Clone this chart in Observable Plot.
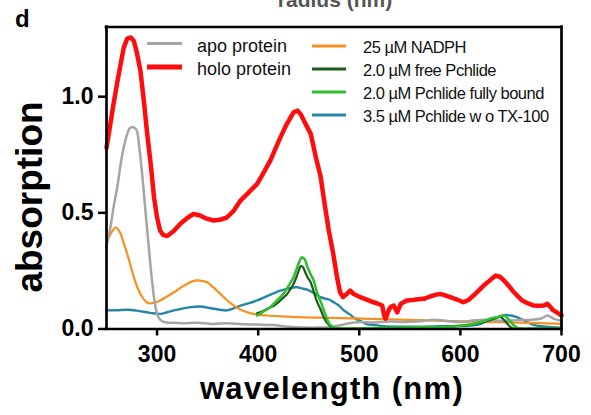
<!DOCTYPE html>
<html>
<head>
<meta charset="utf-8">
<script src="https://cdn.jsdelivr.net/npm/d3@7"></script>
<script src="https://cdn.jsdelivr.net/npm/@observablehq/plot@0.6"></script>
<style>
  body { margin: 0; background: #fff; }
  #chart { width: 591px; height: 415px; }
  #chart svg { font-family: "Liberation Sans", Arial, sans-serif; overflow: visible; }
  #chart g[aria-label="x-axis tick"] path,
  #chart g[aria-label="y-axis tick"] path { stroke-width: 2.5px; }
  #chart g[aria-label="x-axis tick label"],
  #chart g[aria-label="y-axis tick label"] { font-weight: bold; font-size: 23px; }
</style>
</head>
<body>
<div id="chart"></div>
<script>
// Absorption spectra: wavelength (nm) vs absorption
const xDomain = [250, 700];
const yDomain = [0, 1.3];
const xTicks = [300, 400, 500, 600, 700];
const yTicks = [0, 0.5, 1.0];

const apoNm  = [250, 254, 257, 261, 264, 267, 270.5, 273, 275.5, 278, 280, 282.5, 285, 287.5, 290, 292.5, 295, 297.5, 300, 303, 306.6, 315, 325, 340, 355, 370, 385, 400, 415, 430, 445, 460, 470, 480, 490, 500, 515, 530, 545, 560, 574, 585, 600, 615, 625, 640, 655, 670, 680, 686, 692, 700];
const apoAbs = [0.36, 0.44, 0.524, 0.62, 0.71, 0.78, 0.84, 0.865, 0.87, 0.865, 0.854, 0.78, 0.68, 0.56, 0.438, 0.32, 0.209, 0.12, 0.065, 0.04, 0.03, 0.027, 0.025, 0.027, 0.022, 0.025, 0.02, 0.019, 0.017, 0.01, 0.006, 0.006, 0.008, 0.015, 0.025, 0.03, 0.028, 0.032, 0.03, 0.033, 0.04, 0.035, 0.03, 0.038, 0.04, 0.035, 0.038, 0.04, 0.045, 0.058, 0.045, 0.035];

const holoNm  = [250, 253, 257, 261, 264, 267, 270.5, 274, 277, 280, 283.6, 287, 290, 294, 297, 300, 303, 306, 310, 316, 323, 330, 336, 342, 349, 356, 362, 369, 376, 382.5, 390, 399, 405, 412, 417, 422, 428, 435, 439, 442, 446, 452, 457, 461.6, 466, 470, 474, 478, 481, 484, 487.7, 491, 494, 497.6, 501, 508, 514, 518, 522.7, 524.5, 526, 529, 531, 534, 537.5, 541, 547, 553, 558, 564, 570, 576, 580, 585, 590, 596, 603, 608, 613, 618, 623, 628, 632, 635, 639, 643, 648, 653, 657, 661, 666, 672.6, 677, 682.5, 686, 689, 692, 696, 700];
const holoAbs = [0.78, 0.86, 0.97, 1.07, 1.14, 1.21, 1.25, 1.255, 1.24, 1.19, 1.11, 0.98, 0.85, 0.70, 0.567, 0.48, 0.424, 0.405, 0.40, 0.42, 0.453, 0.478, 0.495, 0.49, 0.475, 0.467, 0.47, 0.48, 0.51, 0.553, 0.585, 0.625, 0.67, 0.725, 0.775, 0.825, 0.88, 0.933, 0.94, 0.925, 0.89, 0.84, 0.74, 0.66, 0.53, 0.42, 0.33, 0.223, 0.158, 0.137, 0.151, 0.165, 0.152, 0.144, 0.137, 0.125, 0.115, 0.11, 0.101, 0.06, 0.044, 0.08, 0.095, 0.101, 0.072, 0.108, 0.123, 0.125, 0.128, 0.13, 0.14, 0.148, 0.151, 0.145, 0.137, 0.128, 0.115, 0.125, 0.144, 0.165, 0.187, 0.205, 0.22, 0.23, 0.225, 0.209, 0.185, 0.158, 0.14, 0.123, 0.112, 0.101, 0.1, 0.101, 0.108, 0.095, 0.08, 0.07, 0.058];

const nadphNm  = [250, 253, 255.6, 259, 262, 264, 267, 270.5, 274, 277, 280, 283.6, 288.5, 292, 295, 299, 303, 310, 316.6, 323, 329.7, 335, 339.6, 344, 349.5, 356, 362.7, 369, 376, 382, 389, 399, 409, 425, 438.6, 455, 470, 490, 510, 541, 570, 600, 630, 660, 700];
const nadphAbs = [0.373, 0.40, 0.42, 0.438, 0.425, 0.41, 0.37, 0.323, 0.27, 0.223, 0.185, 0.151, 0.12, 0.111, 0.111, 0.115, 0.123, 0.14, 0.158, 0.177, 0.194, 0.205, 0.209, 0.207, 0.201, 0.178, 0.151, 0.125, 0.101, 0.085, 0.072, 0.062, 0.058, 0.054, 0.051, 0.049, 0.048, 0.046, 0.044, 0.04, 0.037, 0.033, 0.03, 0.027, 0.022];

const freeNm  = [399, 406, 412, 415.5, 420, 425, 428.7, 432, 435, 438, 440, 442, 444, 446, 448.5, 452, 455, 458, 461.6, 465, 468, 472, 476, 485, 500, 530, 560, 590, 605, 615, 625, 632, 636, 639.6, 643, 646, 649, 652, 660, 680, 700];
const freeAbs = [0.068, 0.08, 0.093, 0.10, 0.115, 0.135, 0.151, 0.172, 0.194, 0.225, 0.25, 0.27, 0.268, 0.25, 0.225, 0.20, 0.16, 0.12, 0.085, 0.05, 0.028, 0.01, 0.003, 0.001, 0.002, 0.004, 0.006, 0.01, 0.015, 0.022, 0.032, 0.042, 0.048, 0.052, 0.04, 0.025, 0.01, 0.002, 0.0, 0.001, 0.002];

const boundNm  = [399, 405, 412, 418, 425, 430, 435, 439, 441.5, 443.5, 446, 448.5, 451.7, 455, 458, 461.6, 465, 468, 470, 473, 478, 490, 520, 560, 590, 605, 613, 622, 630, 636, 643, 647, 650, 653, 656, 662, 680, 700];
const boundAbs = [0.058, 0.075, 0.094, 0.12, 0.151, 0.185, 0.223, 0.27, 0.298, 0.309, 0.30, 0.27, 0.237, 0.209, 0.16, 0.12, 0.08, 0.045, 0.025, 0.012, 0.003, 0.002, 0.004, 0.007, 0.01, 0.017, 0.022, 0.032, 0.045, 0.051, 0.058, 0.045, 0.03, 0.015, 0.006, 0.002, 0.002, 0.002];

const noTxNm  = [250, 260, 271, 280, 290, 296, 303, 310, 316.6, 325, 333, 342.6, 350, 356, 362, 369, 375, 382.5, 390, 399, 407, 415.5, 422, 428.7, 434, 438.6, 443, 448.5, 455, 461.6, 467, 470, 474.8, 480, 484.7, 491, 494.6, 501, 508, 514, 524, 540, 560, 580, 600, 612, 620, 626, 633, 639.7, 645, 650, 655, 660, 666, 672.6, 680, 690, 700];
const noTxAbs = [0.08, 0.081, 0.083, 0.079, 0.072, 0.068, 0.065, 0.072, 0.08, 0.088, 0.094, 0.097, 0.092, 0.087, 0.083, 0.08, 0.088, 0.101, 0.11, 0.123, 0.138, 0.154, 0.165, 0.173, 0.178, 0.18, 0.175, 0.169, 0.155, 0.137, 0.13, 0.127, 0.115, 0.10, 0.08, 0.062, 0.048, 0.035, 0.02, 0.018, 0.012, 0.01, 0.01, 0.012, 0.013, 0.016, 0.022, 0.035, 0.045, 0.054, 0.06, 0.058, 0.052, 0.043, 0.03, 0.018, 0.012, 0.008, 0.006];

const seriesLabels = {
  apo: "apo protein",
  holo: "holo protein",
  nadph: "25 µM NADPH",
  free: "2.0 µM free Pchlide",
  bound: "2.0 µM Pchlide fully bound",
  noTx: "3.5 µM Pchlide w o TX-100"
};

const seriesData = {
  apo: [apoNm, apoAbs],
  holo: [holoNm, holoAbs],
  nadph: [nadphNm, nadphAbs],
  free: [freeNm, freeAbs],
  bound: [boundNm, boundAbs],
  noTx: [noTxNm, noTxAbs]
};

// line styling per series
const seriesStyle = {
  apo:   {color: "#a5a5a5", width: 2.5, curve: "catmull-rom"},
  holo:  {color: "#ff0d0d", width: 4.5, curve: "linear"},
  nadph: {color: "#f7901e", width: 2.2, curve: "catmull-rom"},
  free:  {color: "#1c5a1c", width: 2.2, curve: "catmull-rom"},
  bound: {color: "#2fbf2f", width: 2.6, curve: "catmull-rom"},
  noTx:  {color: "#2785a8", width: 2.4, curve: "catmull-rom"}
};

const drawOrder = ["noTx", "nadph", "apo", "free", "bound", "holo"];

const rows = key => seriesData[key][0].map((nm, i) => ({nm, abs: seriesData[key][1][i]}));

const lineMarks = drawOrder.map(key => Plot.line(rows(key), {
  x: "nm", y: "abs",
  stroke: seriesStyle[key].color,
  strokeWidth: seriesStyle[key].width,
  curve: seriesStyle[key].curve,
  strokeLinejoin: "round"
}));

const plot = Plot.plot({
  width: 591,
  height: 415,
  marginLeft: 106,
  marginRight: 30,
  marginTop: 26.5,
  marginBottom: 86.5,
  style: {fontFamily: "'Liberation Sans', Arial, sans-serif", color: "#000", background: "#fff"},
  x: {domain: xDomain},
  y: {domain: yDomain},
  marks: [
    ...lineMarks,
    // box around the plotting area
    Plot.ruleX(xDomain, {stroke: "#000", strokeWidth: 2.7, strokeLinecap: "square"}),
    Plot.ruleY(yDomain, {stroke: "#000", strokeWidth: 2.7, strokeLinecap: "square"}),
    Plot.axisX({ticks: xTicks, tickSize: 7, tickPadding: 10, label: null, fontSize: 23, fontWeight: "bold"}),
    Plot.axisY({ticks: yTicks, tickSize: 8, tickPadding: 5, tickFormat: d3.format(".1f"), label: null, fontSize: 23, fontWeight: "bold"})
  ]
});

document.getElementById("chart").append(plot);

// titles and legend
const svg = d3.select(plot);

svg.append("text")
  .attr("x", 335).attr("y", 7)
  .attr("text-anchor", "middle")
  .attr("font-size", 21).attr("font-weight", "bold").attr("fill", "#555")
  .text("radius (nm)");

svg.append("text")
  .attr("x", 15).attr("y", 27)
  .attr("text-anchor", "start")
  .attr("font-size", 24).attr("font-weight", "bold")
  .text("d");

svg.append("text")
  .attr("transform", "translate(42,197) rotate(-90)")
  .attr("text-anchor", "middle")
  .attr("font-size", 37).attr("font-weight", "bold")
  .text("absorption");

svg.append("text")
  .attr("x", 332).attr("y", 399)
  .attr("text-anchor", "middle")
  .attr("font-size", 31).attr("font-weight", "bold")
  .attr("letter-spacing", 1.3)
  .text("wavelength (nm)");

const legendCols = [
  {keys: ["apo", "holo"], x0: 147, x1: 182, tx: 197, y0: 43.5, step: 23.5, size: 18, spacing: 0, dy: 8},
  {keys: ["nadph", "free", "bound", "noTx"], x0: 312, x1: 346, tx: 363, y0: 46, step: 23, size: 16.5, spacing: -0.5, dy: 6.5}
];

legendCols.forEach(col => {
  const g = svg.append("g").attr("text-anchor", "start");
  col.keys.forEach((key, i) => {
    const y = col.y0 + i * col.step;
    g.append("line")
      .attr("x1", col.x0).attr("x2", col.x1).attr("y1", y).attr("y2", y)
      .attr("stroke", seriesStyle[key].color)
      .attr("stroke-width", key === "holo" ? 5 : 2.8);
    g.append("text")
      .attr("x", col.tx).attr("y", y + col.dy)
      .attr("text-anchor", "start")
      .attr("font-size", col.size)
      .attr("letter-spacing", col.spacing)
      .attr("fill", "#111")
      .text(seriesLabels[key]);
  });
});
</script>
</body>
</html>
